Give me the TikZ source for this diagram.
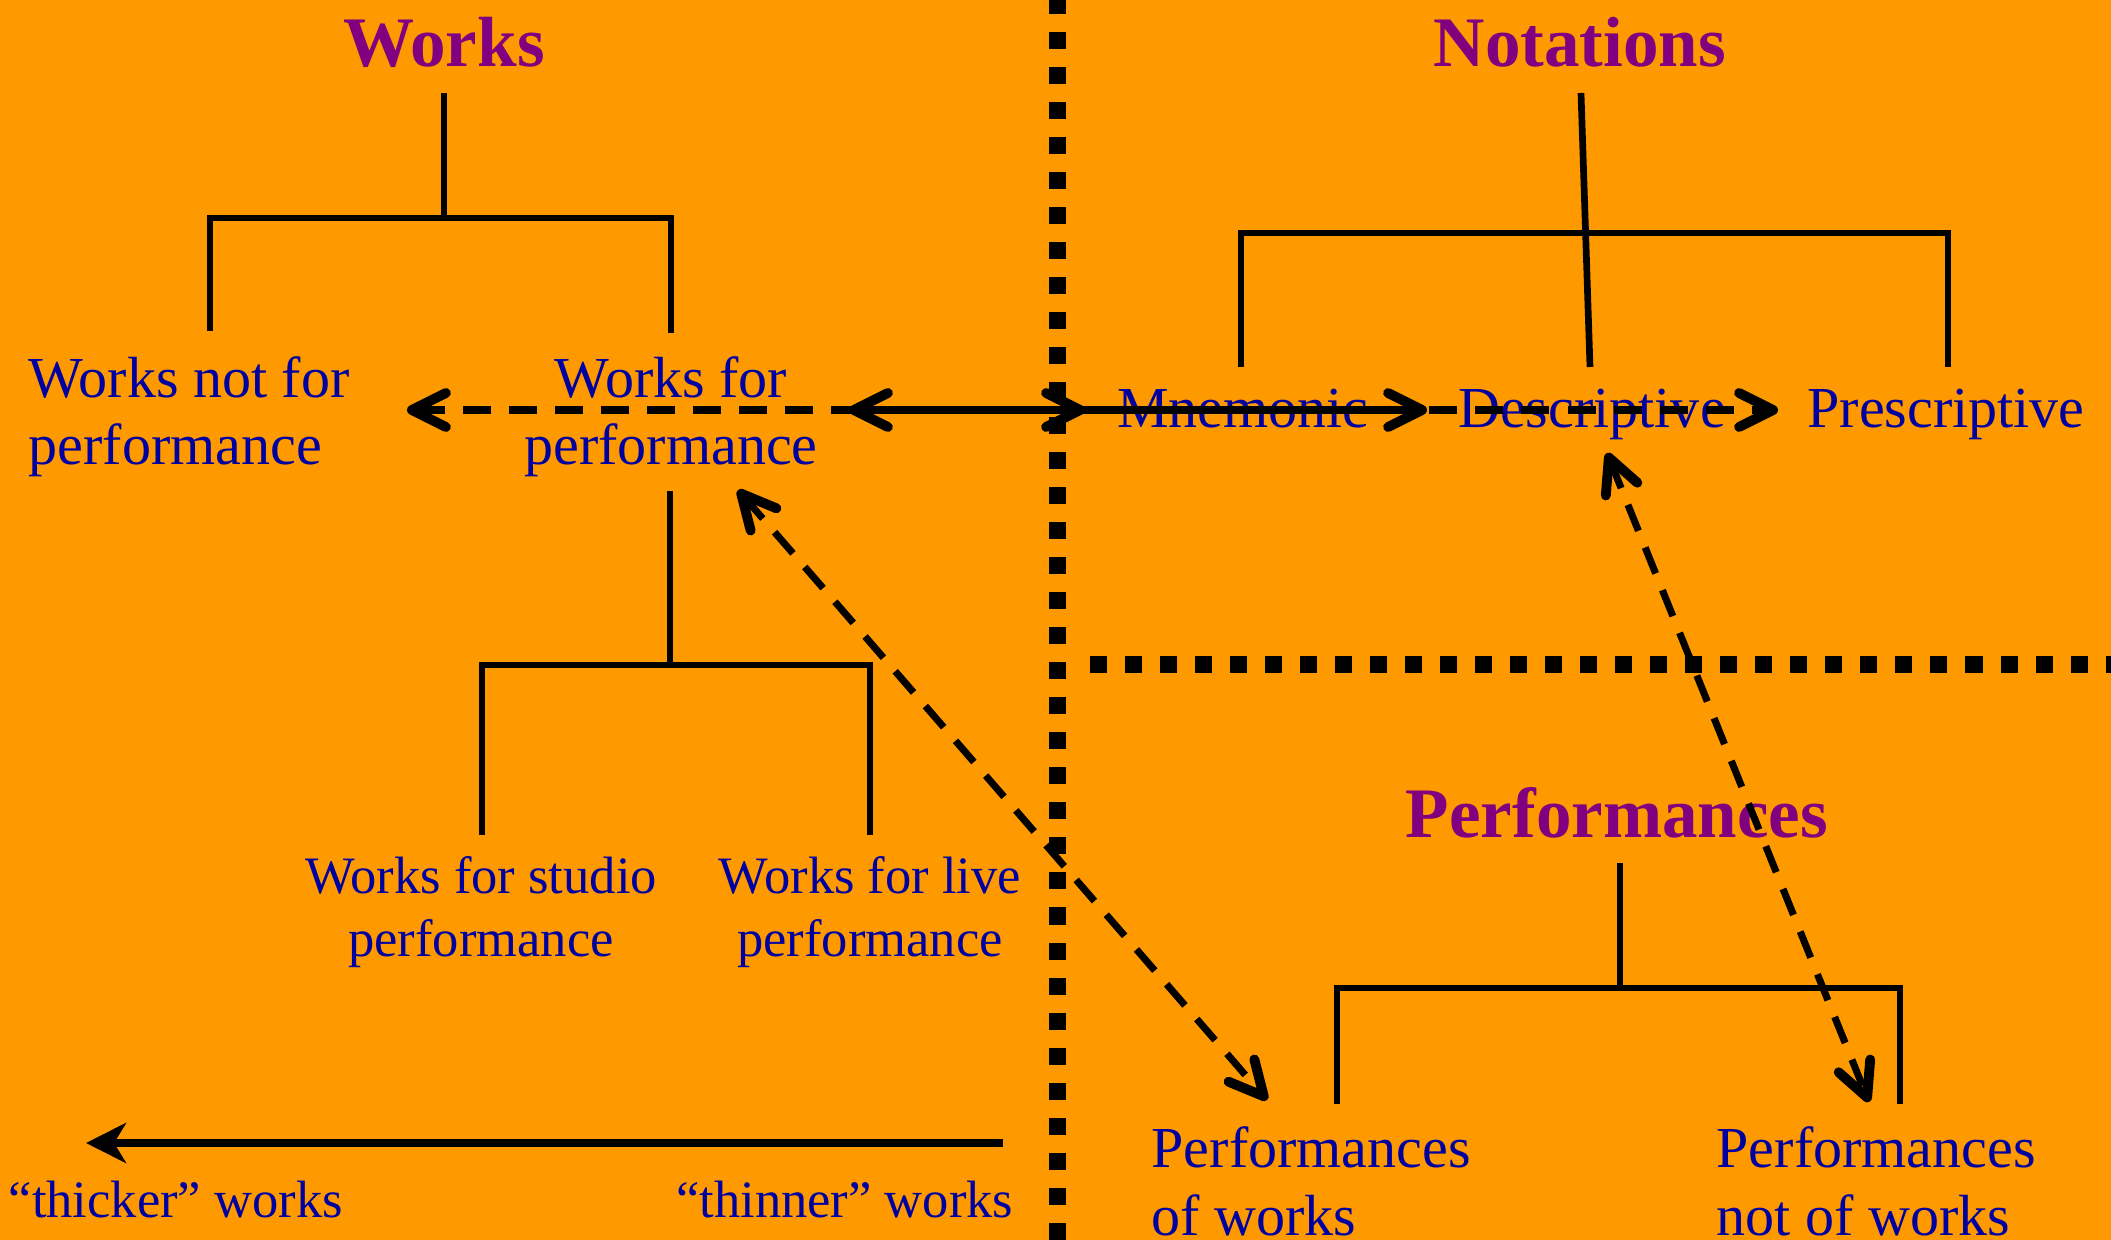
\documentclass[tikz,border=0pt]{standalone}
\usepackage{fontspec}
\setmainfont{Liberation Serif}
\usetikzlibrary{arrows.meta}
\definecolor{bg}{RGB}{255,153,0}
\definecolor{txtblue}{RGB}{0,0,160}
\definecolor{ttlpurple}{RGB}{128,0,128}
\begin{document}
\begin{tikzpicture}[x=0.01cm,y=-0.01cm,
  title/.style={font=\fontsize{20.2}{24}\selectfont\bfseries, text=ttlpurple, inner sep=0pt, anchor=base},
  lbl/.style={font=\fontsize{16.5}{19.06}\selectfont, text=txtblue, inner sep=0pt, align=center, anchor=base},
  sml/.style={font=\fontsize{14.94}{17.93}\selectfont, text=txtblue, inner sep=0pt, align=center, anchor=base},
  tree/.style={line width=1.9pt, line join=miter},
  divider/.style={line width=0.17cm, dash pattern=on 0.17cm off 0.18cm},
  barb/.tip={Straight Barb[length=0.34cm,width=0.34cm,round,line width=2.8pt]},
  dasharrow/.style={line width=2pt, dash pattern=on 0.28cm off 0.18cm, barb-barb},
  solidarrow/.style={line width=2pt},
]
\fill[bg] (0,0) rectangle (2111,1240);
\useasboundingbox (0,0) rectangle (2111,1240);

% dividers
\coordinate (vdTop) at (1057,0);
\coordinate (vdBot) at (1057,1240);
\coordinate (hdL) at (1090,665);
\coordinate (hdR) at (2111,665);
\draw[divider, dash phase=0.03cm] (vdTop) -- (vdBot);
\draw[divider] (hdL) -- (hdR);

% titles
\node[title] (works) at (444,67) {Works};
\node[title] (notations) at (1580,67) {Notations};
\node[title] (performances) at (1617,838) {Performances};

% labels (two-line nodes are placed by their last baseline)
\node[lbl, anchor=base west, align=left] (wnfp) at (28,465) {Works not for\\performance};
\node[lbl] (wfp) at (671,465) {Works for\\performance};
\node[lbl] (mnem) at (1243,428) {Mnemonic};
\node[lbl] (desc) at (1592,428) {Descriptive};
\node[lbl] (presc) at (1946,428) {Prescriptive};
\node[sml] (wfsp) at (481,957) {Works for studio\\performance};
\node[sml] (wflp) at (870,957) {Works for live\\performance};
\node[lbl, anchor=base west, align=left] (pow) at (1151,1235) {Performances\\of works};
\node[lbl, anchor=base west, align=left] (pnow) at (1716,1235) {Performances\\not of works};
\node[sml, anchor=base west] (thick) at (8,1218) {“thicker” works};
\node[sml, anchor=base east] (thin) at (1014,1218) {“thinner” works};

% Works tree
\coordinate (wTop) at (444,93);
\coordinate (wJ) at (444,218);
\coordinate (wLb) at (210,331);
\coordinate (wRb) at (671,333);
\draw[tree] (wTop) -- (wJ);
\draw[tree] (wLb) -- (wLb |- wJ) -- (wRb |- wJ) -- (wRb);

% Works for performance subtree
\coordinate (pTop) at (670,491);
\coordinate (pJ) at (670,665);
\coordinate (pLb) at (482,835);
\coordinate (pRb) at (870,835);
\draw[tree] (pTop) -- (pJ);
\draw[tree] (pLb) -- (pLb |- pJ) -- (pRb |- pJ) -- (pRb);

% Notations tree
\coordinate (nTop) at (1581,93);
\coordinate (nMid) at (1590,367);
\coordinate (nJ) at (1585,233);
\coordinate (nLb) at (1241,367);
\coordinate (nRb) at (1948,367);
\draw[tree] (nTop) -- (nMid);
\draw[tree] (nLb) -- (nLb |- nJ) -- (nRb |- nJ) -- (nRb);

% Performances tree
\coordinate (fTop) at (1620,863);
\coordinate (fJ) at (1620,988);
\coordinate (fLb) at (1337,1104);
\coordinate (fRb) at (1900,1104);
\draw[tree] (fTop) -- (fJ);
\draw[tree] (fLb) -- (fLb |- fJ) -- (fRb |- fJ) -- (fRb);

% horizontal arrows
\coordinate (hA) at (407,410);
\coordinate (hB) at (849,410);
\coordinate (hC) at (1085,410);
\coordinate (hD) at (1427,410);
\coordinate (hE) at (1778,410);
\draw[dasharrow] (hA) -- (hE);
\draw[solidarrow, barb-barb] (hB) -- (hC);
\draw[solidarrow, -barb] (hC) -- (hD);

% diagonal dashed arrows
\coordinate (dA1) at (738,490);
\coordinate (dA2) at (1267,1100);
\coordinate (dB1) at (1607,453);
\coordinate (dB2) at (1869,1102);
\draw[dasharrow] (dA1) -- (dA2);
\draw[dasharrow] (dB1) -- (dB2);

% thick/thin arrow
\coordinate (tR) at (1003,1143);
\coordinate (tL) at (86,1143);
\draw[solidarrow, -{Stealth[length=0.4cm,width=0.4cm,inset=0.12cm]}] (tR) -- (tL);
\end{tikzpicture}
\end{document}
